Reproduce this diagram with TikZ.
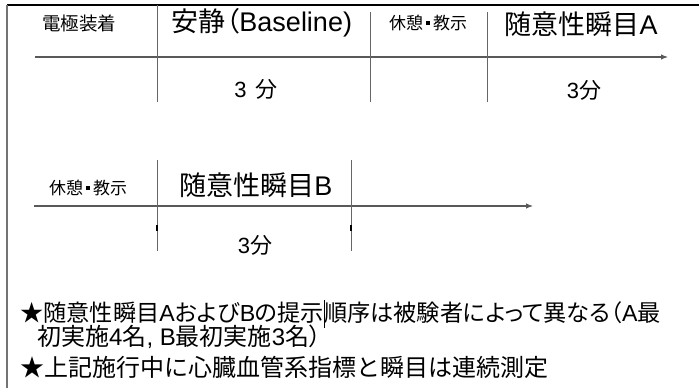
\documentclass[tikz,border=0pt]{standalone}
\usepackage{fontspec}
\setmainfont{Noto Sans CJK JP}
\newfontfamily\cjkp[RawFeature=+palt]{Noto Sans CJK JP}
\newfontfamily\latf{Liberation Sans}
\newcommand{\lt}[1]{{\latf #1}}
\newcommand{\sqdot}{\hspace{3pt}\rule[4.5pt]{4pt}{4pt}\hspace{3pt}}
\newcommand{\caretbar}{\makebox[0pt]{\raisebox{-6pt}[0pt][0pt]{\rule{0.6pt}{28pt}}}}
\usetikzlibrary{arrows.meta}
\tikzset{
  lbl/.style={inner sep=0pt, anchor=center, text=black},
  small/.style={lbl, font=\fontsize{17}{17}\selectfont},
  smallb/.style={lbl, font=\fontsize{18.5}{18.5}\selectfont},
  big/.style={lbl, font=\fontsize{27}{27}\selectfont},
  mins/.style={lbl, font=\fontsize{22}{22}\selectfont},
  note/.style={inner sep=0pt, anchor=west, text=black, font=\fontsize{24}{24}\selectfont},
  tick/.style={draw=black!60, line width=0.9pt},
  axis/.style={draw=black!65, line width=1.1pt, -{Latex[length=7pt,width=5.5pt]}},
  frametop/.style={draw=black, line width=1.3pt},
  frameleft/.style={draw=black!55, line width=2pt},
}
\begin{document}
\begin{tikzpicture}[x=1pt,y=-1pt]
\useasboundingbox (0,0) rectangle (699,388);
\fill[white] (0,0) rectangle (699,388);
% frame
\coordinate (ftl) at (7,5);
\coordinate (ftr) at (699,5);
\coordinate (fbl) at (7,388);
\draw[frametop] (ftl) -- (ftr);
\draw[frameleft] (ftl) -- (fbl);
% row 1
\coordinate (a1s) at (35,57); \coordinate (a1e) at (668,57);
\draw[axis] (a1s) -- (a1e);
\coordinate (t1a) at (157,5);  \coordinate (t1b) at (157,102);
\coordinate (t2a) at (370,12); \coordinate (t2b) at (370,102);
\coordinate (t3a) at (487,12); \coordinate (t3b) at (487,102);
\draw[tick] (t1a) -- (t1b);
\draw[tick] (t2a) -- (t2b);
\draw[tick] (t3a) -- (t3b);
\node[smallb] (e1) at (79,23) {電極装着};
\node[big] (b1) at (262,23) {\cjkp 安静（\lt{Baseline)}};
\node[small] (r1) at (428,23) {休憩\sqdot 教示};
\node[big] (v1) at (581,24) {随意性瞬目\lt{A}};
\node[mins] (m1) at (256,89) {\lt{3}\hspace{9pt}分};
\node[mins] (m2) at (584,90) {\lt{3}分};
% row 2
\coordinate (a2s) at (34,206); \coordinate (a2e) at (533,206);
\draw[axis] (a2s) -- (a2e);
\coordinate (t4a) at (157,160); \coordinate (t4b) at (157,251);
\coordinate (t5a) at (351,160); \coordinate (t5b) at (351,251);
\draw[tick] (t4a) -- (t4b);
\draw[tick] (t5a) -- (t5b);
\coordinate (k4a) at (157,225); \coordinate (k4b) at (157,231);
\coordinate (k5a) at (351,225); \coordinate (k5b) at (351,231);
\draw[black, line width=1.5pt] (k4a) -- (k4b);
\draw[black, line width=1.5pt] (k5a) -- (k5b);
\node[small] (r2) at (88,188) {休憩\sqdot 教示};
\node[big] (v2) at (256,185) {随意性瞬目\lt{B}};
\node[mins] (m3) at (255,245) {\lt{3}分};
% notes
\node[note, font=\fontsize{23.2}{23.2}\selectfont] (n1) at (20,313) {\cjkp ★随意性瞬目\lt{A}および\lt{B}の提示\caretbar 順序は被験者によって異なる（\lt{A}最};
\node[note] (n2) at (37,337) {\cjkp 初実施\lt{4}名\lt{, B}最初実施\lt{3}名）};
\node[note] (n3) at (20,367) {★上記施行中に心臓血管系指標と瞬目は連続測定};
\end{tikzpicture}
\end{document}
